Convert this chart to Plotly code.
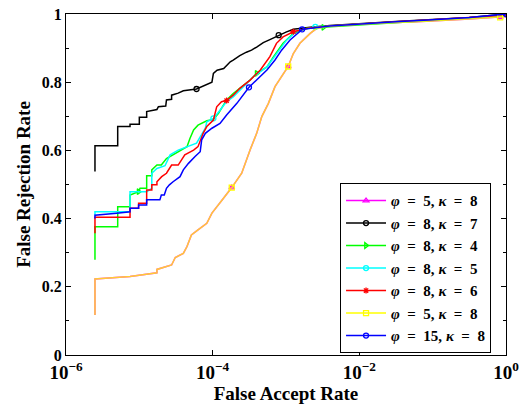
import numpy as np
import plotly.graph_objects as go

# ---- data (x stored as log10 of False Accept Rate) ----
black_logfar = [-5.605,-5.605,-5.295,-5.295,-5.127,-5.127,-5.0,-5.0,-4.9,-4.9,-4.76,-4.74,-4.64,-4.63,-4.56,
                -4.56,-4.47,-4.40,-4.22,-4.08,-4.01,-3.99,-3.94,-3.85,-3.80,-3.76,-3.72,-3.63,-3.54,-3.47,
                -3.40,-3.31,-3.22,-3.10,-3.0,-2.9,-2.8,-2.67,-2.4,-2.0,-1.5,-1.0,-0.5,0]
black_frr = [0.538,0.614,0.614,0.670,0.670,0.677,0.677,0.697,0.697,0.714,0.72,0.728,0.73,0.748,0.75,
             0.762,0.768,0.775,0.78,0.792,0.80,0.826,0.835,0.84,0.85,0.86,0.865,0.878,0.888,0.894,
             0.903,0.916,0.925,0.938,0.947,0.955,0.958,0.961,0.966,0.972,0.978,0.984,0.99,1.0]

green_logfar = [-5.605,-5.605,-5.295,-5.295,-5.127,-5.127,-5.01,-4.99,-4.9,-4.9,-4.83,-4.83,-4.76,-4.70,-4.63,
                -4.56,-4.47,-4.35,-4.31,-4.26,-4.20,-4.08,-3.99,-3.92,-3.81,-3.72,-3.49,-3.40,-3.26,-3.17,
                -3.04,-2.9,-2.72,-2.49,-2.0,-1.5,-1.0,-0.5,0]
green_frr = [0.279,0.376,0.376,0.435,0.435,0.469,0.479,0.489,0.489,0.526,0.526,0.543,0.557,0.557,0.576,
             0.585,0.596,0.611,0.635,0.660,0.674,0.687,0.691,0.709,0.748,0.767,0.806,0.826,0.845,0.875,
             0.914,0.943,0.958,0.961,0.968,0.974,0.98,0.987,0.995]

cyan_logfar = [-5.605,-5.605,-5.127,-5.127,-4.9,-4.83,-4.83,-4.76,-4.65,-4.58,-4.47,-4.33,-4.22,-4.17,-4.10,
               -4.08,-3.99,-3.90,-3.81,-3.72,-3.58,-3.445,-3.26,-3.13,-2.99,-2.85,-2.6,-2.0,-1.5,-1.0,
               -0.5,0]
cyan_frr = [0.41,0.420,0.420,0.479,0.479,0.489,0.533,0.547,0.555,0.587,0.601,0.611,0.621,0.640,0.665,
            0.684,0.694,0.718,0.743,0.757,0.787,0.816,0.845,0.884,0.924,0.950,0.962,0.970,0.976,0.982,
            0.988,0.995]

red_logfar = [-5.605,-5.605,-5.127,-5.127,-5.01,-5.01,-4.9,-4.9,-4.83,-4.83,-4.76,-4.76,-4.695,-4.63,-4.56,
              -4.47,-4.38,-4.26,-4.20,-4.13,-4.08,-3.99,-3.945,-3.88,-3.81,-3.72,-3.63,-3.49,-3.35,-3.22,
              -3.13,-3.04,-2.9,-2.7,-2.4,-2.0,-1.5,-1.0,-0.5,0]
red_frr = [0.357,0.404,0.404,0.430,0.430,0.445,0.445,0.484,0.484,0.499,0.499,0.508,0.523,0.533,0.557,
           0.557,0.587,0.601,0.611,0.650,0.670,0.689,0.728,0.743,0.746,0.762,0.782,0.806,0.836,0.875,
           0.914,0.933,0.948,0.958,0.965,0.971,0.977,0.983,0.989,0.996]

yellow_logfar = [-5.605,-5.605,-5.127,-4.76,-4.76,-4.56,-4.51,-4.40,-4.35,-4.29,-4.20,-4.08,-4.01,-3.945,-3.855,
                 -3.74,-3.604,-3.49,-3.40,-3.33,-3.24,-3.15,-2.97,-2.9,-2.81,-2.67,-2.58,-2.44,-2.0,-1.5,
                 -1.22,-0.5,-0.08,0]
yellow_frr = [0.117,0.223,0.230,0.241,0.251,0.264,0.286,0.298,0.318,0.352,0.367,0.386,0.416,0.435,0.459,
              0.491,0.533,0.601,0.650,0.699,0.738,0.787,0.846,0.884,0.914,0.943,0.958,0.963,0.97,0.975,
              0.977,0.985,0.99,0.993]

blue_logfar = [-5.605,-5.605,-5.31,-5.127,-5.127,-5.01,-5.01,-4.9,-4.9,-4.72,-4.70,-4.66,-4.63,-4.59,-4.54,
               -4.445,-4.40,-4.33,-4.24,-4.17,-4.15,-4.10,-4.01,-3.90,-3.81,-3.67,-3.505,-3.40,-3.26,-3.15,
               -3.06,-2.945,-2.81,-2.78,-2.4,-2.0,-1.5,-1.0,-0.5,0]
blue_frr = [0.400,0.410,0.416,0.420,0.430,0.430,0.440,0.440,0.455,0.455,0.469,0.469,0.489,0.499,0.508,
            0.523,0.543,0.562,0.582,0.596,0.631,0.650,0.665,0.679,0.704,0.738,0.785,0.806,0.836,0.865,
            0.894,0.924,0.948,0.955,0.965,0.971,0.977,0.983,0.99,1.0]

x_tickvals = [1e-6, 1e-4, 1e-2, 1]
x_ticktext = ["10<sup>−6</sup>", "10<sup>−4</sup>", "10<sup>−2</sup>", "10<sup>0</sup>"]

S = "\u2002"  # en space, math-like spacing around '='
legend_names = [f"<i>φ</i>{S}={S}5, <i>κ</i>{S}={S}8", f"<i>φ</i>{S}={S}8, <i>κ</i>{S}={S}7",
                f"<i>φ</i>{S}={S}8, <i>κ</i>{S}={S}4", f"<i>φ</i>{S}={S}8, <i>κ</i>{S}={S}5",
                f"<i>φ</i>{S}={S}8, <i>κ</i>{S}={S}6", f"<i>φ</i>{S}={S}5, <i>κ</i>{S}={S}8",
                f"<i>φ</i>{S}={S}15, <i>κ</i>{S}={S}8"]

# series: (x, y, legend color, drawn line color, symbol, marker indices)
series = [
    (yellow_logfar, yellow_frr, "#FF00FF", "#FF00FF", "triangle-up-open", [15, 22, 32]),
    (black_logfar, black_frr, "#000000", "#000000", "circle-open", [18, 33, 43]),
    (green_logfar, green_frr, "#00FF00", "#00FF00", "triangle-right-open", [6, 27, 33]),
    (cyan_logfar, cyan_frr, "#00FFFF", "#00FFFF", "circle-open", [16, 26]),
    (red_logfar, red_frr, "#FF0000", "#FF0000", "asterisk-open", [24, 32]),
    (yellow_logfar, yellow_frr, "#FFFF00", "rgba(255,255,0,0.8)", "square-open", [15, 22, 32]),
    (blue_logfar, blue_frr, "#0000FF", "#0000FF", "circle-open", [26, 33, 39]),
]

fig = go.Figure()
for (lx, y, lcol, dcol, sym, midx), name in zip(series, legend_names):
    x = 10 ** np.array(lx)
    y = np.array(y)
    fig.add_trace(go.Scatter(x=x, y=y, mode="lines", line=dict(color=dcol, width=1.5),
                             showlegend=False, hoverinfo="skip"))
    fig.add_trace(go.Scatter(x=x[midx], y=y[midx], mode="markers",
                             marker=dict(symbol=sym, size=5, color=lcol, line=dict(color=lcol, width=1.3)),
                             showlegend=False, hoverinfo="skip"))
    fig.add_trace(go.Scatter(x=[None], y=[None], mode="lines+markers", name=name,
                             line=dict(color=lcol, width=1.5),
                             marker=dict(symbol=sym, size=5, color=lcol, line=dict(color=lcol, width=1.3))))

font_family = "Liberation Serif"
fig.update_layout(
    width=523, height=410,
    margin=dict(l=66, r=17, t=14, b=55, autoexpand=False),
    paper_bgcolor="white", plot_bgcolor="white",
    font=dict(family=font_family, size=16, color="black"),
    showlegend=True,
    legend=dict(x=0.966, y=0.005, xanchor="right", yanchor="bottom",
                bgcolor="white", bordercolor="black", borderwidth=1,
                font=dict(family=font_family, size=15, color="black", weight="bold"),
                tracegroupgap=0, itemwidth=40),
    xaxis=dict(type="log", range=[-6, 0], tickvals=x_tickvals, ticktext=x_ticktext, automargin=False,
               showgrid=False, zeroline=False, showline=True, linecolor="black", linewidth=1,
               mirror="ticks", ticks="inside", ticklen=5, tickcolor="black",
               tickfont=dict(family=font_family, size=19, weight="bold"),
               title=dict(text="<b>False Accept Rate</b>", font=dict(family=font_family, size=19), standoff=2)),
    yaxis=dict(range=[0, 1], dtick=0.2, showgrid=False, zeroline=False, showline=True, automargin=False,
               linecolor="black", linewidth=1, mirror="ticks", ticks="inside", ticklen=5, tickcolor="black",
               tickfont=dict(family=font_family, size=16, weight="bold"),
               minor=dict(dtick=0.1, ticks="inside", ticklen=3, tickcolor="black"),
               title=dict(text="<b>False Rejection Rate</b>", font=dict(family=font_family, size=19), standoff=6)),
)

fig.write_html("out.html", config={"displayModeBar": False},
               post_script="document.body.style.margin='0';document.body.style.padding='0';")
